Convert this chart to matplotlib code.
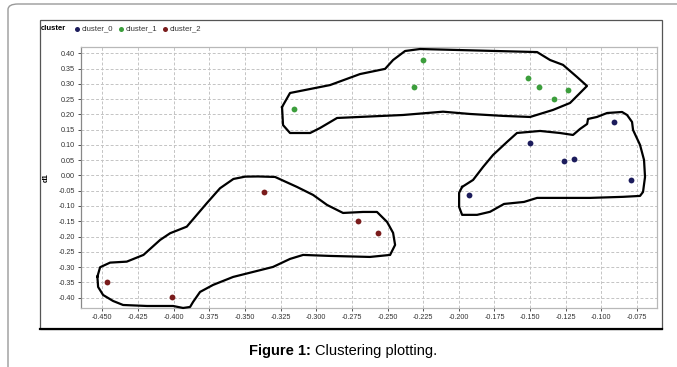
import numpy as np
import matplotlib.pyplot as plt
from matplotlib.patches import FancyBboxPatch, Rectangle
from matplotlib.lines import Line2D

# ------------------ DATA ------------------ #
c0_x = [-0.0913, -0.1498, -0.1264, -0.1190, -0.0794, -0.1928]
c0_y = [0.174, 0.105, 0.047, 0.055, -0.014, -0.063]

c1_x = [-0.3156, -0.2251, -0.2316, -0.1512, -0.1435, -0.1334, -0.1236]
c1_y = [0.217, 0.378, 0.291, 0.319, 0.289, 0.249, 0.280]

c2_x = [-0.3368, -0.4465, -0.4013, -0.2709, -0.2567]
c2_y = [-0.055, -0.349, -0.397, -0.150, -0.189]

x_ticks = [-0.450, -0.425, -0.400, -0.375, -0.350, -0.325, -0.300, -0.275, -0.250,
           -0.225, -0.200, -0.175, -0.150, -0.125, -0.100, -0.075]
y_ticks = [0.40, 0.35, 0.30, 0.25, 0.20, 0.15, 0.10, 0.05, 0.00, -0.05, -0.10,
           -0.15, -0.20, -0.25, -0.30, -0.35, -0.40]

# hand drawn outlines (data units)
out1_x = [-0.324, -0.3184, -0.2903, -0.2693, -0.2517, -0.2461, -0.2377, -0.2272, -0.1451,
          -0.136, -0.1269, -0.1171, -0.1101, -0.115, -0.122, -0.1339, -0.150, -0.169,
          -0.1921, -0.2111, -0.2391, -0.2854, -0.2973, -0.3043, -0.3184, -0.3233, -0.324]
out1_y = [0.224, 0.270, 0.296, 0.332, 0.349, 0.378, 0.4075, 0.414, 0.404,
          0.378, 0.362, 0.3224, 0.293, 0.270, 0.2373, 0.2146, 0.1915, 0.195,
          0.2013, 0.2088, 0.198, 0.1882, 0.1555, 0.139, 0.139, 0.165, 0.224]

out0_x = [-0.1977, -0.190, -0.183, -0.176, -0.1662, -0.1592, -0.143, -0.129, -0.1199,
          -0.115, -0.110, -0.1094, -0.1031, -0.096, -0.0855, -0.082, -0.0785, -0.0778,
          -0.0729, -0.0701, -0.0694, -0.0708, -0.0729, -0.0848, -0.108, -0.1451,
          -0.1543, -0.1683, -0.1781, -0.1872, -0.1977, -0.1998, -0.1998, -0.1977]
out0_y = [-0.0376, -0.0147, 0.0278, 0.0671, 0.1097, 0.1391, 0.1457, 0.139, 0.1326,
          0.1522, 0.1686, 0.185, 0.1915, 0.2045, 0.2078, 0.198, 0.1751, 0.149,
          0.100, 0.0508, -0.0049, -0.054, -0.067, -0.070, -0.0735, -0.0735,
          -0.0867, -0.0933, -0.119, -0.129, -0.129, -0.103, -0.057, -0.0376]

out2_x = [-0.4535, -0.4516, -0.4446, -0.4329, -0.4212, -0.4095, -0.4025, -0.3908, -0.3838,
          -0.3768, -0.3675, -0.3581, -0.3499, -0.3408, -0.3289, -0.3135, -0.3022, -0.2924,
          -0.2812, -0.2672, -0.2574, -0.2503, -0.2461, -0.2447, -0.2482, -0.2623, -0.2903,
          -0.3092, -0.3184, -0.3303, -0.3443, -0.3583, -0.3724, -0.3815, -0.3864, -0.3885,
          -0.3934, -0.4004, -0.4187, -0.4355, -0.4425, -0.4495, -0.453, -0.4535]
out2_y = [-0.3313, -0.3005, -0.2854, -0.2822, -0.2602, -0.2111, -0.1892, -0.1676, -0.1293,
          -0.091, -0.0419, -0.0115, -0.0039, -0.0033, -0.0049, -0.0376, -0.0638, -0.0966,
          -0.1228, -0.1195, -0.1195, -0.1523, -0.188, -0.2275, -0.2602, -0.2668, -0.2635,
          -0.2602, -0.2733, -0.2995, -0.3159, -0.3323, -0.3585, -0.3814, -0.4142, -0.4306,
          -0.4339, -0.4274, -0.4274, -0.4241, -0.411, -0.3914, -0.3651, -0.3313]

colors = ["#1c1c5c", "#3c9e3c", "#7a1c1c"]
labels = ["cluster_0", "cluster_1", "cluster_2"]

plt.rcParams['font.family'] = ['Liberation Sans', 'DejaVu Sans']

# ------------------ FIGURE ------------------ #
fig = plt.figure(figsize=(6.77, 3.67), dpi=100)

# page frame
fig.patches.append(FancyBboxPatch((8 / 677, -0.2), 1.1, 1 - 4 / 367 + 0.2,
                                  boxstyle="round,pad=0,rounding_size=0.015",
                                  transform=fig.transFigure, fill=False,
                                  edgecolor="#9a9a9a", linewidth=1.0))
# chart box
fig.patches.append(Rectangle((40 / 677, 1 - 329 / 367), 622 / 677, 309 / 367,
                             transform=fig.transFigure, fill=False,
                             edgecolor="#555555", linewidth=0.9))
fig.lines.append(Line2D([40 / 677, 662 / 677], [1 - 329 / 367, 1 - 329 / 367],
                        transform=fig.transFigure, color="black", linewidth=1.6))

ax = fig.add_axes([81 / 677, 1 - 308 / 367, 576 / 677, 261 / 367])

for xs, ys, c in zip([c0_x, c1_x, c2_x], [c0_y, c1_y, c2_y], colors):
    ax.plot(xs, ys, "o", color=c, markersize=4.2, markeredgewidth=0, zorder=3)

for xs, ys in [(out1_x, out1_y), (out0_x, out0_y), (out2_x, out2_y)]:
    ax.plot(xs, ys, "-", color="black", linewidth=1.6, clip_on=False, zorder=4,
            solid_joinstyle="round")

ax.set_xlim(-0.465, -0.061)
ax.set_ylim(-0.434, 0.4206)
ax.set_xticks(x_ticks)
ax.set_yticks(y_ticks)
ax.set_xticklabels(["%.3f" % v for v in x_ticks])
ax.set_yticklabels(["%.2f" % v for v in y_ticks])
ax.tick_params(labelsize=5.2, colors="#333333", length=2.5, width=0.6, pad=2)
ax.grid(True, color="#c4c4c4", linestyle=(0, (3, 2)), linewidth=0.7)
for s in ax.spines.values():
    s.set_color("#b8b8b8")
    s.set_linewidth(0.9)
ax.spines["left"].set_color("#888888")
ax.set_ylabel("d1", fontsize=5.5, fontweight="bold", labelpad=6)

# legend row
fig.text(41 / 677, 1 - 29 / 367, "cluster", fontsize=5.5, fontweight="bold",
         va="center", ha="left")
leg_x = [77, 121, 165]
for lx, c, lab in zip(leg_x, colors, labels):
    fig.lines.append(Line2D([lx / 677], [1 - 29 / 367], marker="o", color=c,
                            markersize=3.6, markeredgewidth=0,
                            transform=fig.transFigure))
    fig.text((lx + 5) / 677, 1 - 29 / 367, lab, fontsize=5.6, color="#333333",
             va="center", ha="left")

# caption
fig.text(311 / 677, 1 - 351 / 367, "Figure 1:", fontsize=10.5, fontweight="bold",
         ha="right", va="center")
fig.text(315 / 677, 1 - 351 / 367, "Clustering plotting.", fontsize=10.5,
         ha="left", va="center")

plt.savefig("out.png", dpi=100)
